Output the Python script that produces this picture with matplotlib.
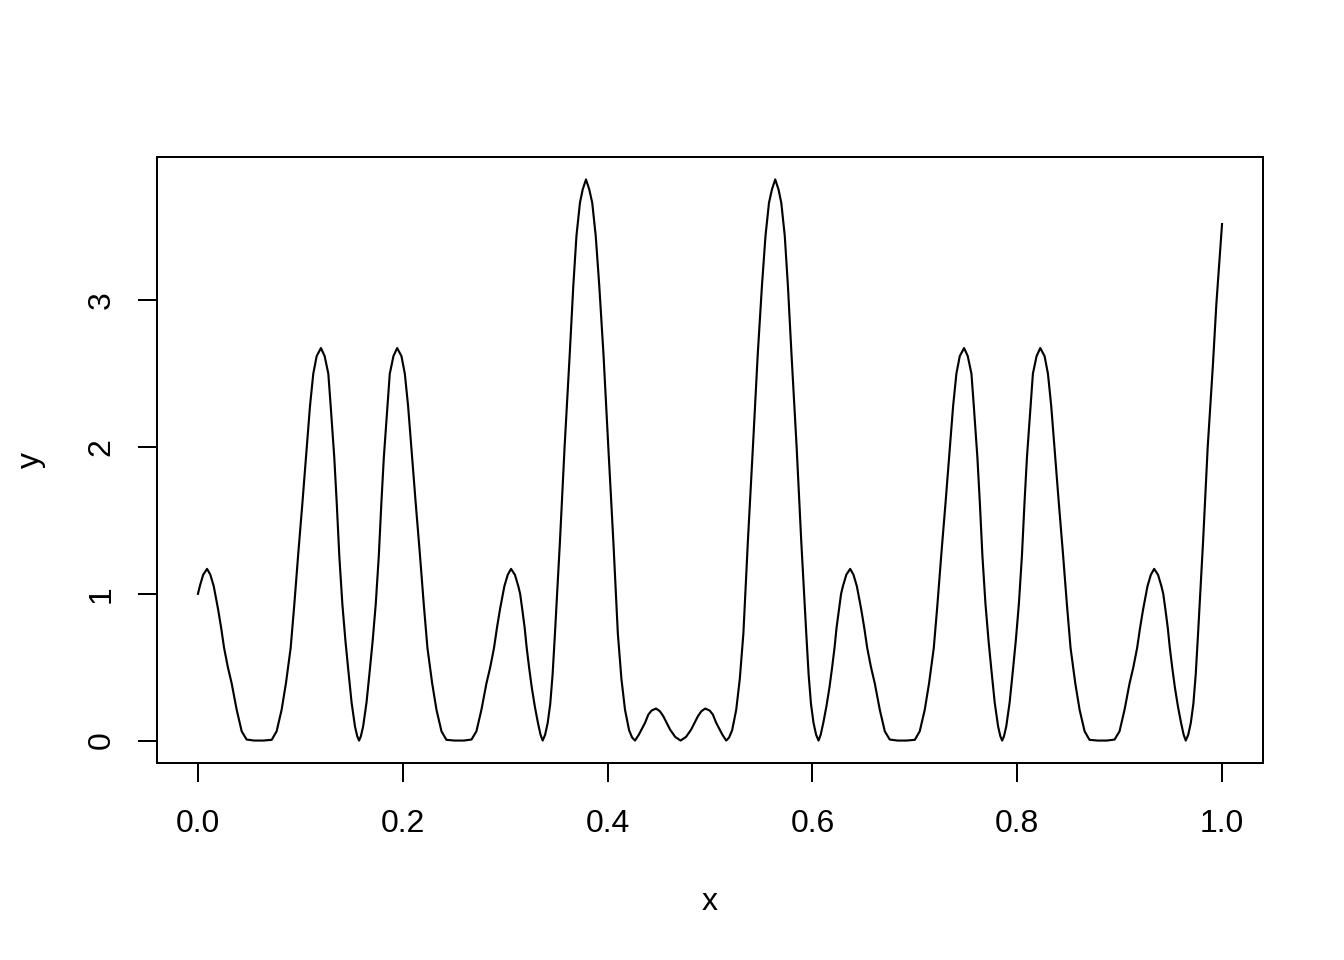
import numpy as np
import matplotlib
matplotlib.use("Agg")
import matplotlib.pyplot as plt

# curve samples (x, y)
x_vals = [
    0.0000, 0.0018, 0.0051, 0.0089, 0.0121, 0.0154, 0.0197, 0.0226, 0.0255, 0.0292,
    0.0329, 0.0378, 0.0427, 0.0475, 0.0550, 0.0640, 0.0720, 0.0768, 0.0817, 0.0859,
    0.0905, 0.0940, 0.0980, 0.1020, 0.1055, 0.1094, 0.1126, 0.1159, 0.1201, 0.1237,
    0.1273, 0.1296, 0.1331, 0.1355, 0.1380, 0.1410, 0.1440, 0.1468, 0.1500, 0.1533,
    0.1555, 0.1573, 0.1591, 0.1613, 0.1646, 0.1678, 0.1706, 0.1736, 0.1766, 0.1791,
    0.1815, 0.1850, 0.1873, 0.1909, 0.1945, 0.1987, 0.2020, 0.2052, 0.2091, 0.2126,
    0.2166, 0.2206, 0.2241, 0.2287, 0.2329, 0.2378, 0.2426, 0.2506, 0.2596, 0.2671,
    0.2719, 0.2768, 0.2817, 0.2854, 0.2891, 0.2920, 0.2949, 0.2992, 0.3025, 0.3057,
    0.3095, 0.3128, 0.3146, 0.3167, 0.3190, 0.3210, 0.3235, 0.3260, 0.3290, 0.3320,
    0.3345, 0.3366, 0.3390, 0.3415, 0.3440, 0.3463, 0.3486, 0.3535, 0.3580, 0.3630,
    0.3665, 0.3696, 0.3730, 0.3757, 0.3789, 0.3821, 0.3850, 0.3884, 0.3919, 0.3960,
    0.4007, 0.4056, 0.4100, 0.4135, 0.4170, 0.4210, 0.4240, 0.4268, 0.4305, 0.4365,
    0.4398, 0.4430, 0.4473, 0.4510, 0.4544, 0.4610, 0.4660, 0.4713, 0.4766, 0.4816,
    0.4882, 0.4916, 0.4953, 0.4996, 0.5028, 0.5061, 0.5121, 0.5158, 0.5186, 0.5216,
    0.5256, 0.5291, 0.5326, 0.5370, 0.5419, 0.5466, 0.5507, 0.5542, 0.5576, 0.5605,
    0.5637, 0.5669, 0.5696, 0.5730, 0.5761, 0.5796, 0.5846, 0.5891, 0.5940, 0.5963,
    0.5986, 0.6011, 0.6036, 0.6060, 0.6081, 0.6106, 0.6136, 0.6166, 0.6191, 0.6216,
    0.6236, 0.6259, 0.6280, 0.6298, 0.6331, 0.6369, 0.6401, 0.6434, 0.6477, 0.6506,
    0.6535, 0.6572, 0.6609, 0.6658, 0.6707, 0.6755, 0.6830, 0.6920, 0.7000, 0.7048,
    0.7097, 0.7139, 0.7185, 0.7220, 0.7260, 0.7300, 0.7335, 0.7374, 0.7406, 0.7439,
    0.7481, 0.7517, 0.7553, 0.7576, 0.7611, 0.7635, 0.7660, 0.7690, 0.7720, 0.7748,
    0.7780, 0.7813, 0.7835, 0.7853, 0.7871, 0.7893, 0.7926, 0.7958, 0.7986, 0.8016,
    0.8046, 0.8071, 0.8095, 0.8130, 0.8153, 0.8189, 0.8225, 0.8267, 0.8300, 0.8332,
    0.8371, 0.8406, 0.8446, 0.8486, 0.8521, 0.8567, 0.8609, 0.8658, 0.8706, 0.8786,
    0.8876, 0.8951, 0.8999, 0.9048, 0.9097, 0.9134, 0.9171, 0.9200, 0.9229, 0.9272,
    0.9305, 0.9337, 0.9375, 0.9408, 0.9426, 0.9447, 0.9470, 0.9490, 0.9515, 0.9540,
    0.9570, 0.9600, 0.9625, 0.9646, 0.9670, 0.9695, 0.9720, 0.9743, 0.9766, 0.9815,
    0.9860, 0.9910, 0.9945, 0.9975, 1.0000,
]
y_vals = [
    1.000, 1.052, 1.130, 1.170, 1.130, 1.052, 0.893, 0.770, 0.632, 0.500,
    0.390, 0.210, 0.063, 0.007, 0.000, 0.000, 0.005, 0.063, 0.210, 0.390,
    0.630, 0.920, 1.280, 1.620, 1.930, 2.280, 2.500, 2.620, 2.675, 2.620,
    2.500, 2.280, 1.930, 1.620, 1.260, 0.930, 0.680, 0.480, 0.260, 0.097,
    0.030, 0.000, 0.030, 0.097, 0.260, 0.480, 0.680, 0.930, 1.260, 1.620,
    1.930, 2.280, 2.500, 2.620, 2.675, 2.620, 2.500, 2.280, 1.930, 1.620,
    1.280, 0.920, 0.630, 0.390, 0.210, 0.063, 0.005, 0.000, 0.000, 0.007,
    0.063, 0.210, 0.390, 0.500, 0.632, 0.770, 0.893, 1.052, 1.130, 1.170,
    1.130, 1.052, 1.000, 0.893, 0.770, 0.632, 0.490, 0.360, 0.230, 0.120,
    0.040, 0.000, 0.040, 0.120, 0.250, 0.450, 0.730, 1.360, 2.000, 2.630,
    3.097, 3.440, 3.665, 3.756, 3.824, 3.756, 3.665, 3.440, 3.097, 2.630,
    2.000, 1.360, 0.730, 0.420, 0.210, 0.070, 0.020, 0.000, 0.040, 0.120,
    0.177, 0.205, 0.218, 0.200, 0.166, 0.075, 0.025, 0.000, 0.025, 0.075,
    0.166, 0.200, 0.218, 0.205, 0.177, 0.120, 0.040, 0.000, 0.020, 0.070,
    0.210, 0.420, 0.730, 1.360, 2.000, 2.630, 3.097, 3.440, 3.665, 3.756,
    3.824, 3.756, 3.665, 3.440, 3.097, 2.630, 2.000, 1.360, 0.730, 0.450,
    0.250, 0.120, 0.040, 0.000, 0.040, 0.120, 0.230, 0.360, 0.490, 0.632,
    0.770, 0.893, 1.000, 1.052, 1.130, 1.170, 1.130, 1.052, 0.893, 0.770,
    0.632, 0.500, 0.390, 0.210, 0.063, 0.007, 0.000, 0.000, 0.005, 0.063,
    0.210, 0.390, 0.630, 0.920, 1.280, 1.620, 1.930, 2.280, 2.500, 2.620,
    2.675, 2.620, 2.500, 2.280, 1.930, 1.620, 1.260, 0.930, 0.680, 0.480,
    0.260, 0.097, 0.030, 0.000, 0.030, 0.097, 0.260, 0.480, 0.680, 0.930,
    1.260, 1.620, 1.930, 2.280, 2.500, 2.620, 2.675, 2.620, 2.500, 2.280,
    1.930, 1.620, 1.280, 0.920, 0.630, 0.390, 0.210, 0.063, 0.005, 0.000,
    0.000, 0.007, 0.063, 0.210, 0.390, 0.500, 0.632, 0.770, 0.893, 1.052,
    1.130, 1.170, 1.130, 1.052, 1.000, 0.893, 0.770, 0.632, 0.490, 0.360,
    0.230, 0.120, 0.040, 0.000, 0.040, 0.120, 0.250, 0.450, 0.730, 1.360,
    2.000, 2.550, 2.980, 3.280, 3.520,
]

x_ticks = [0.0, 0.2, 0.4, 0.6, 0.8, 1.0]
y_ticks = [0, 1, 2, 3]

plt.rcParams['font.family'] = ['Liberation Sans', 'DejaVu Sans']

fig = plt.figure(figsize=(7, 5), dpi=192)
ax = fig.add_axes([157 / 1344, 1 - 763 / 960, (1263 - 157) / 1344, (763 - 157) / 960])

ax.plot(x_vals, y_vals, color='black', lw=0.8, solid_joinstyle='round')

# R style 4% padding
xr = max(x_vals) - min(x_vals)
yr = max(y_vals) - min(y_vals)
ax.set_xlim(min(x_vals) - 0.04 * xr, max(x_vals) + 0.04 * xr)
ax.set_ylim(min(y_vals) - 0.04 * yr, max(y_vals) + 0.04 * yr)

ax.set_xticks(x_ticks)
ax.set_xticklabels(['%.1f' % v for v in x_ticks])
ax.set_yticks(y_ticks)
ax.set_yticklabels([str(v) for v in y_ticks], rotation=90, va='center')
ax.tick_params(direction='out', length=7.2, width=0.75, labelsize=12)
ax.tick_params(axis='x', pad=10.2)
ax.tick_params(axis='y', pad=8)

for s in ax.spines.values():
    s.set_linewidth(0.75)

ax.set_xlabel('x', fontsize=12, labelpad=18)
ax.set_ylabel('y', fontsize=12, labelpad=15)

fig.savefig('out.png', dpi=192)
